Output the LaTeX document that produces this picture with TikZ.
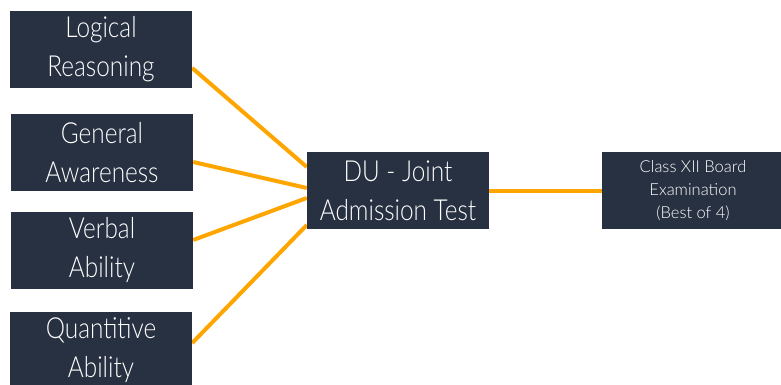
\documentclass[tikz,border=0pt]{standalone}
\usepackage{fontspec}
\setmainfont{Lato}[UprightFont=* Light]
\newfontfamily\narrowfont{Lato}[UprightFont=* Light, FakeStretch=0.84]
\usetikzlibrary{calc,backgrounds}
\definecolor{boxnavy}{HTML}{283142}
\definecolor{linkorange}{HTML}{FFA500}
\tikzset{
    subject/.style={fill=boxnavy, text=white, minimum width=182pt, minimum height=77pt,
        inner sep=0pt, align=center, font=\narrowfont\fontsize{29}{39}\selectfont},
    result/.style={subject, font=\fontsize{16.5}{23}\selectfont},
    link/.style={linkorange, line width=4pt}
}
\begin{document}
\begin{tikzpicture}[x=1pt,y=-1pt]
        \useasboundingbox (0,0) rectangle (781,385);

        \node[subject] (lr) at (101,49.5) {Logical\\Reasoning};
        \node[subject] (ga) at (102,152.5) {General\\Awareness};
        \node[subject] (va) at (102,250.5) {Verbal\\Ability};
        \node[subject] (qa) at (101,350.5) {Quantitive\\Ability};

        \node[subject] (du) at (398,190.5) {DU - Joint\\Admission Test};
        \node[result] (cx) at (693,190.5) {Class XII Board\\Examination\\(Best of 4)};

        \begin{pgfonlayer}{background}
        \draw[link] ($(lr.east)+(0,18.5)$) -- ($(du.west)+(0,-23.5)$);
        \draw[link] ($(ga.east)+(0,9.5)$) -- ($(du.west)+(0,-2.5)$);
        \draw[link] ($(va.east)+(0,-10.5)$) -- ($(du.west)+(0,7.5)$);
        \draw[link] ($(qa.east)+(0,-7.5)$) -- ($(du.west)+(0,34.5)$);
        \draw[link] (du.east) -- (cx.west);
        \end{pgfonlayer}
    \end{tikzpicture}
\end{document}
